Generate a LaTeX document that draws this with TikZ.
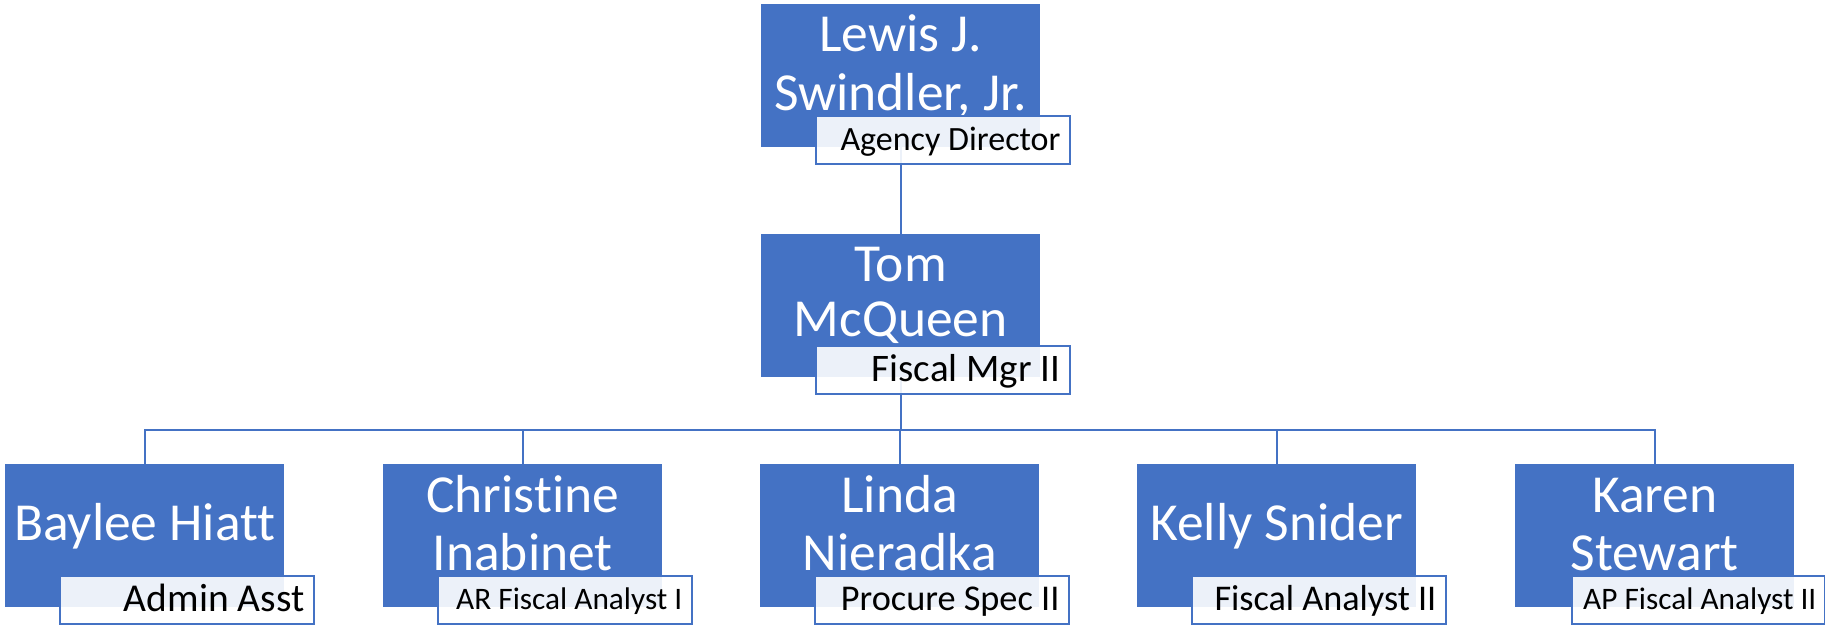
\documentclass[tikz,border=0pt]{standalone}
\usepackage{fontspec}
\setmainfont{Carlito}[RawFeature={-liga;-clig}]
\usetikzlibrary{calc}
\definecolor{acc}{HTML}{4472C4}
\begin{document}
\begin{tikzpicture}[x=1pt,y=-1pt,
  person/.style={rectangle, fill=acc, draw=none, minimum width=279pt, minimum height=143pt, inner sep=0pt, anchor=north west},
  role/.style={rectangle, draw=acc, line width=1.6pt, fill=white, fill opacity=0.9, draw opacity=1, minimum width=254pt, minimum height=48pt, inner sep=0pt, anchor=north west},
  nametext/.style={text=white, font=\fontsize{53.5}{60}\selectfont, anchor=base, inner sep=0pt},
  roletext/.style={text=black, anchor=base east, inner sep=0pt},
  link/.style={draw=acc, line width=2pt}]
\useasboundingbox (0,0) rectangle (1825,626);
% boxes
\node[person] (ceo) at (761,4) {};
\node[person] (mgr) at (761,234) {};
\node[person] (s1) at (5,464) {};
\node[person] (s2) at (383,464) {};
\node[person] (s3) at (760,464) {};
\node[person] (s4) at (1137,464) {};
\node[person] (s5) at (1515,464) {};
% connectors
\path (mgr.south) ++(0,52.5) coordinate (bus);
\draw[link] (ceo.south) -- (mgr.north);
\draw[link] (mgr.south) -- (bus);
\draw[link] (s1.north) |- (bus) -| (s5.north);
\draw[link] (s2.north) -- (s2.north |- bus);
\draw[link] (s3.north) -- (s3.north |- bus);
\draw[link] (s4.north) -- (s4.north |- bus);
% redraw boxes on top of connectors
\foreach \b in {ceo,mgr,s1,s2,s3,s4,s5} {\fill[acc] (\b.north west) rectangle (\b.south east);}
% names
\node[nametext] (ceoA) at ($(ceo.north)+(0,48)$) {Lewis J.};
\node[nametext] (ceoB) at ($(ceo.north)+(0,106)$) {Swindler, Jr.};
\node[nametext] (mgrA) at ($(mgr.north)+(0,47)$) {Tom};
\node[nametext] (mgrB) at ($(mgr.north)+(0,102)$) {McQueen};
\node[nametext] (s1A) at ($(s1.north)+(0,76)$) {Baylee Hiatt};
\node[nametext] (s2A) at ($(s2.north)+(0,48)$) {Christine};
\node[nametext] (s2B) at ($(s2.north)+(0,106)$) {Inabinet};
\node[nametext] (s3A) at ($(s3.north)+(0,48)$) {Linda};
\node[nametext] (s3B) at ($(s3.north)+(0,106)$) {Nieradka};
\node[nametext] (s4A) at ($(s4.north)+(0,76)$) {Kelly Snider};
\node[nametext] (s5A) at ($(s5.north)+(0,48)$) {Karen};
\node[nametext] (s5B) at ($(s5.north)+(0,106)$) {Stewart};
% role boxes
\node[role] (ceoR) at ($(ceo.north west)+(54,111)$) {};
\node[role] (mgrR) at ($(mgr.north west)+(54,111)$) {};
\node[role] (s1R) at ($(s1.north west)+(54,111)$) {};
\node[role] (s2R) at ($(s2.north west)+(54,111)$) {};
\node[role] (s3R) at ($(s3.north west)+(54,111)$) {};
\node[role] (s4R) at ($(s4.north west)+(54,111)$) {};
\node[role, minimum width=253pt] (s5R) at ($(s5.north west)+(56,111)$) {};
% role texts
\node[roletext, font=\fontsize{34}{40}\selectfont] (ceoT) at ($(ceoR.east)+(-10,10.2)$) {Agency Director};
\node[roletext, font=\fontsize{39}{45}\selectfont] (mgrT) at ($(mgrR.east)+(-10,11.7)$) {Fiscal Mgr II};
\node[roletext, font=\fontsize{39.5}{45}\selectfont] (s1T) at ($(s1R.east)+(-10,11.8)$) {Admin Asst};
\node[roletext, font=\fontsize{31.3}{37}\selectfont] (s2T) at ($(s2R.east)+(-10,9.4)$) {AR Fiscal Analyst I};
\node[roletext, font=\fontsize{36.3}{42}\selectfont] (s3T) at ($(s3R.east)+(-10,10.9)$) {Procure Spec II};
\node[roletext, font=\fontsize{36.2}{42}\selectfont] (s4T) at ($(s4R.east)+(-10,10.9)$) {Fiscal Analyst II};
\node[roletext, font=\fontsize{31.3}{37}\selectfont] (s5T) at ($(s5R.east)+(-9,9.4)$) {AP Fiscal Analyst II};
\end{tikzpicture}
\end{document}
